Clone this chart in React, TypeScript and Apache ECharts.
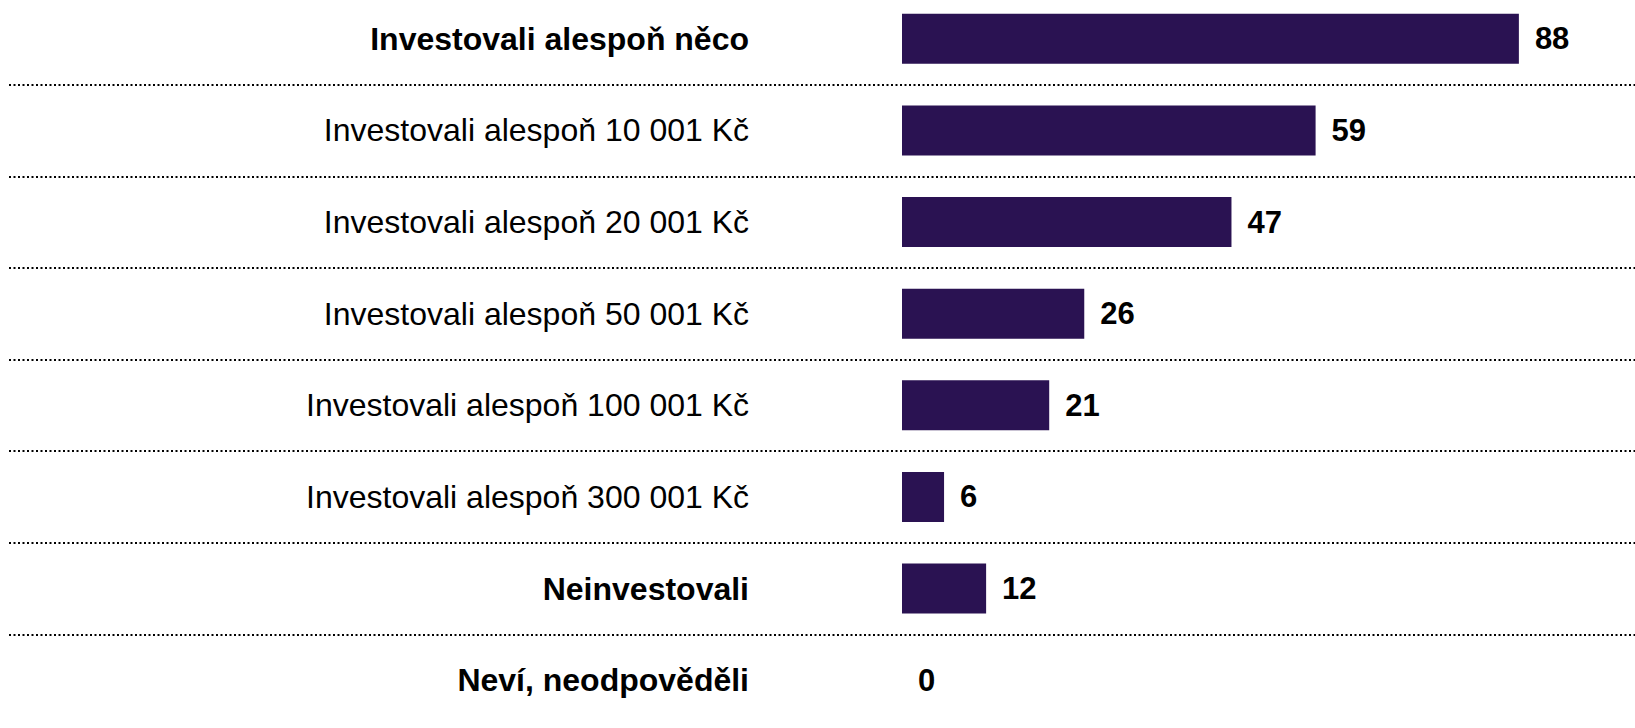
import React, { useEffect, useRef } from "react";
import * as echarts from "echarts";

const categories = [
  "Investovali alespoň něco",
  "Investovali alespoň 10 001 Kč",
  "Investovali alespoň 20 001 Kč",
  "Investovali alespoň 50 001 Kč",
  "Investovali alespoň 100 001 Kč",
  "Investovali alespoň 300 001 Kč",
  "Neinvestovali",
  "Neví, neodpověděli",
];
const values = [88, 59, 47, 26, 21, 6, 12, 0];
const boldCategories = [true, false, false, false, false, false, true, true];

const FONT = "'Liberation Sans', Arial, Helvetica, sans-serif";

export default function App() {
  const ref = useRef<HTMLDivElement>(null);
  useEffect(() => {
    document.body.style.margin = "0";
    document.body.style.overflow = "hidden";
    if (!ref.current) return;
    const chart = echarts.init(ref.current, null, { renderer: "svg" });
    const top = 1;
    const bottom = 2;
    chart.setOption({
      animation: false,
      textStyle: { fontFamily: FONT },
      grid: [
        { left: 9, right: 0, top, bottom, containLabel: false },
        { left: 902, right: 32, top, bottom, containLabel: false },
      ],
      xAxis: [
        { type: "value", gridIndex: 0, min: 0, max: 100, show: false },
        { type: "value", gridIndex: 1, min: 0, max: 100, show: false },
      ],
      yAxis: [
        {
          type: "category",
          gridIndex: 0,
          data: categories,
          inverse: true,
          axisLine: { show: false },
          axisTick: { show: false },
          axisLabel: { show: false },
          splitLine: {
            show: true,
            showMinLine: false,
            showMaxLine: false,
            lineStyle: { color: "#000", width: 2, type: [2, 2.5] },
          },
        },
        {
          type: "category",
          gridIndex: 1,
          data: categories,
          inverse: true,
          axisLine: { show: false },
          axisTick: { show: false },
          splitLine: { show: false },
          axisLabel: {
            margin: 153,
            align: "right",
            fontFamily: FONT,
            fontSize: 32,
            color: "#000",
            formatter: (v: string, i: number) =>
              boldCategories[i] ? `{b|${v}}` : `{n|${v}}`,
            rich: {
              b: { fontFamily: FONT, fontSize: 32, fontWeight: "bold", color: "#000" },
              n: { fontFamily: FONT, fontSize: 32, fontWeight: "normal", color: "#000" },
            },
          },
        },
      ],
      series: [
        {
          type: "bar",
          xAxisIndex: 1,
          yAxisIndex: 1,
          data: values,
          barWidth: 50,
          itemStyle: { color: "#2a1252" },
          label: {
            show: true,
            position: "right",
            distance: 16,
            fontFamily: FONT,
            fontSize: 31,
            fontWeight: "bold",
            color: "#000",
          },
        },
      ],
    });
    return () => chart.dispose();
  }, []);
  return (
    <div
      ref={ref}
      style={{ position: "relative", top: -8, width: 1635, height: 736 }}
    />
  );
}
